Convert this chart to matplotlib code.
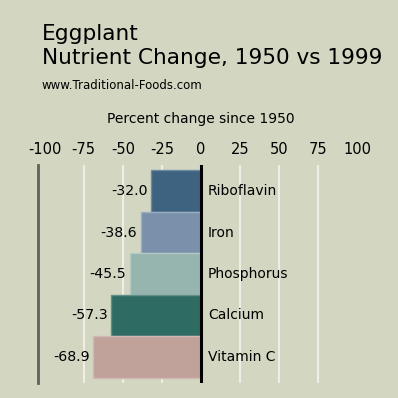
import matplotlib
matplotlib.use('Agg')
import matplotlib.pyplot as plt
import numpy as np
from matplotlib.colors import to_rgb

nutrients = ['Riboflavin', 'Iron', 'Phosphorus', 'Calcium', 'Vitamin C']
changes = [-32.0, -38.6, -45.5, -57.3, -68.9]
colors = ['#3D6380', '#7B91AB', '#97B5AF', '#2E6B62', '#C0A29B']
ticks = [-100, -75, -50, -25, 0, 25, 50, 75, 100]
grid_vals = [-75, -50, -25, 25, 50, 75]

bg = '#D3D7C2'

def lighter(c, f=0.25):
    r = np.array(to_rgb(c))
    return tuple(r + (1 - r) * f)

fig = plt.figure(figsize=(3.98, 3.98), dpi=100, facecolor=bg)
ax = fig.add_axes([37.5 / 398, 15 / 398, 327 / 398, 218 / 398])
ax.set_facecolor(bg)

y = np.arange(len(nutrients))
for v in grid_vals:
    ax.axvline(v, color='#EEEEE6', lw=1.5, zorder=0)

ax.barh(y, changes, height=1.0, color=colors,
        edgecolor=[lighter(c) for c in colors], linewidth=1, zorder=2)
ax.axvline(0, color='black', lw=2.2, zorder=3)

for i, (n, v) in enumerate(zip(nutrients, changes)):
    ax.annotate(f'{v:.1f}', xy=(v, i), xytext=(-2.5, 0), textcoords='offset points',
                ha='right', va='center', fontsize=10.2)
    ax.annotate(n, xy=(0, i), xytext=(5, 0), textcoords='offset points',
                ha='left', va='center', fontsize=10)

ax.set_xlim(-104.5, 104.5)
ax.set_ylim(4.5 + 0.13, -0.5 - 0.13)
ax.set_yticks([])
ax.xaxis.tick_top()
ax.set_xticks(ticks)
ax.set_xticklabels([str(t) for t in ticks])
ax.tick_params(axis='x', length=0, pad=6, labelsize=10.5)

for s in ['top', 'right', 'bottom']:
    ax.spines[s].set_visible(False)
ax.spines['left'].set_color('#5F6358')
ax.spines['left'].set_linewidth(2)

fig.text(42 / 398, 1 - 39.5 / 398, 'Eggplant', fontsize=15.6, va='baseline', ha='left')
fig.text(42 / 398, 1 - 63.5 / 398, 'Nutrient Change, 1950 vs 1999', fontsize=15.6,
         va='baseline', ha='left')
fig.text(42 / 398, 1 - 89 / 398, 'www.Traditional-Foods.com', fontsize=8.5,
         va='baseline', ha='left')
fig.text(201 / 398, 1 - 122.7 / 398, 'Percent change since 1950', fontsize=10,
         va='baseline', ha='center')

fig.savefig('out.png', dpi=100, facecolor=bg)
